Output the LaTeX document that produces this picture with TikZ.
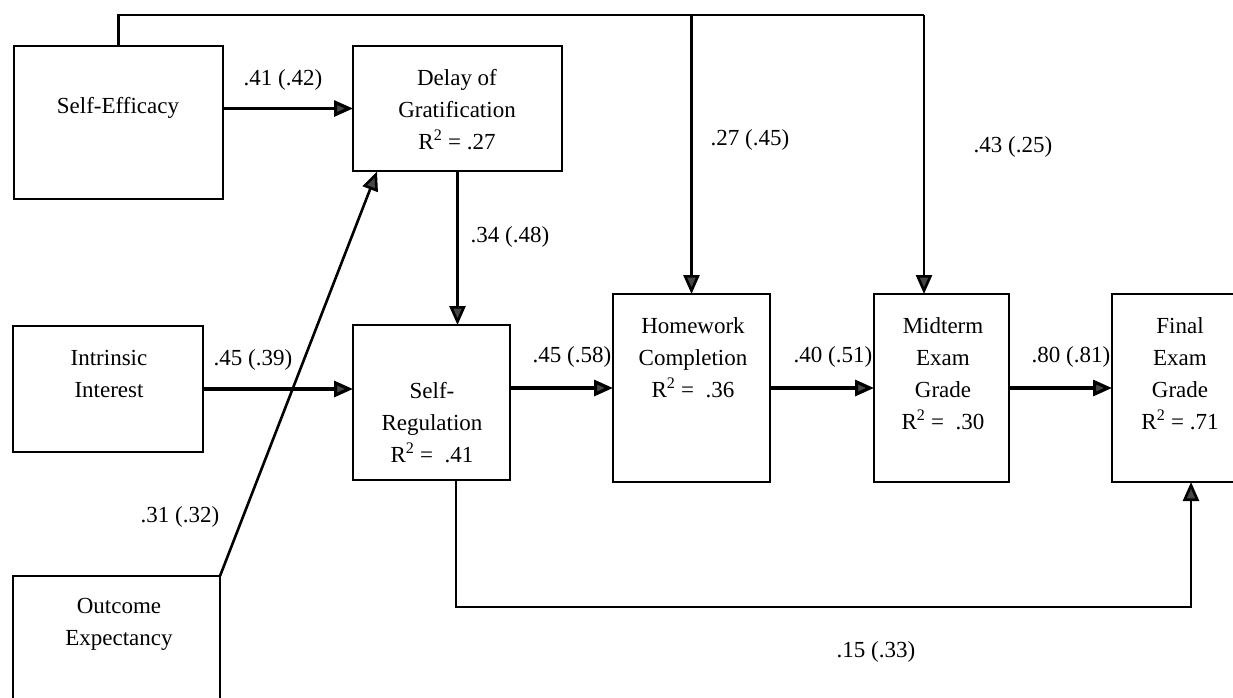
\documentclass[tikz,border=0pt]{standalone}
\usepackage{fontspec}
\setmainfont{Liberation Serif}
\usetikzlibrary{arrows.meta}
\begin{document}
\begin{tikzpicture}[x=1pt,y=-1pt,
  box/.style={draw,line width=2.2pt,inner sep=0pt,outer sep=0pt},
  txt/.style={align=center,inner sep=0pt,font=\fontsize{23}{32}\selectfont},
  lbl/.style={inner sep=0pt,font=\fontsize{23}{28}\selectfont},
  arr/.style={line width=3.2pt,-{Triangle[length=19pt,width=16pt,fill=gray!55!black]}},
  arrthin/.style={line width=2.6pt,-{Triangle[length=19pt,width=16pt,fill=gray!55!black]}},
  conn/.style={line width=2.6pt}]
\useasboundingbox (0,0) rectangle (1233,697);
% boxes
\node[box,minimum width=209pt,minimum height=153pt] (se) at (118.5,122.5) {};
\node[box,minimum width=209pt,minimum height=125pt] (dog) at (457.5,108.5) {};
\node[box,minimum width=190pt,minimum height=126pt] (ii) at (108,389) {};
\node[box,minimum width=157pt,minimum height=155pt] (sr) at (431.5,402.5) {};
\node[box,minimum width=157pt,minimum height=188pt] (hw) at (691.5,388) {};
\node[box,minimum width=135pt,minimum height=188pt] (mid) at (941.5,388) {};
\node[box,minimum width=136pt,minimum height=188pt] (fin) at (1180,388) {};
\node[box,minimum width=207pt,minimum height=150pt] (oe) at (116.5,651) {};
% box texts
\node[txt] (se-t) at (118,108) {Self-Efficacy};
\node[txt] (dog-t) at (457,110) {Delay of\\Gratification\\R\textsuperscript{2} = .27};
\node[txt] (ii-t) at (109,374) {Intrinsic\\Interest};
\node[txt] (sr-t) at (432,423) {Self-\\Regulation\\R\textsuperscript{2} = \ .41};
\node[txt] (hw-t) at (693,358) {Homework\\Completion\\R\textsuperscript{2} = \ .36};
\node[txt] (mid-t) at (943,374) {Midterm\\Exam\\Grade\\R\textsuperscript{2} = \ .30};
\node[txt] (fin-t) at (1180,374) {Final\\Exam\\Grade\\R\textsuperscript{2} = .71};
\node[txt] (oe-t) at (119,624) {Outcome\\Expectancy};
% helper coordinates
\coordinate (tr) at (924,15);
\coordinate (lb) at (456,607);
\coordinate (lf) at (1191,607);
\coordinate (dgt) at (377,171.5);
% connectors
\draw[arr] (se.east |- dog.west) -- (dog.west);
\draw[arr] (ii.east) -- (ii.east -| sr.west);
\draw[arr] (sr.east |- hw.west) -- (hw.west);
\draw[arr] (hw.east) -- (mid.west);
\draw[arr] (mid.east) -- (mid.east -| fin.west);
\draw[arrthin] (dog.south) -- (dog.south |- sr.north);
\draw[conn] (se.north) |- (tr);
\draw[arrthin] (tr) -- (tr |- mid.north);
\draw[arrthin] (hw.north |- tr) -- (hw.north);
\draw[arrthin] (lb |- sr.south) -- (lb) -- (lf) -- (lf |- fin.south);
\draw[arrthin] (oe.north east) -- (dgt);
% labels
\node[lbl] (l1) at (283,80) {.41 (.42)};
\node[lbl] (l2) at (510,237) {.34 (.48)};
\node[lbl] (l3) at (750,140) {.27 (.45)};
\node[lbl] (l4) at (1013,147) {.43 (.25)};
\node[lbl] (l5) at (253,360) {.45 (.39)};
\node[lbl] (l6) at (572,357) {.45 (.58)};
\node[lbl] (l7) at (833,357) {.40 (.51)};
\node[lbl] (l8) at (1071,357) {.80 (.81)};
\node[lbl] (l9) at (180,517) {.31 (.32)};
\node[lbl] (l10) at (876,652) {.15 (.33)};
\end{tikzpicture}
\end{document}
